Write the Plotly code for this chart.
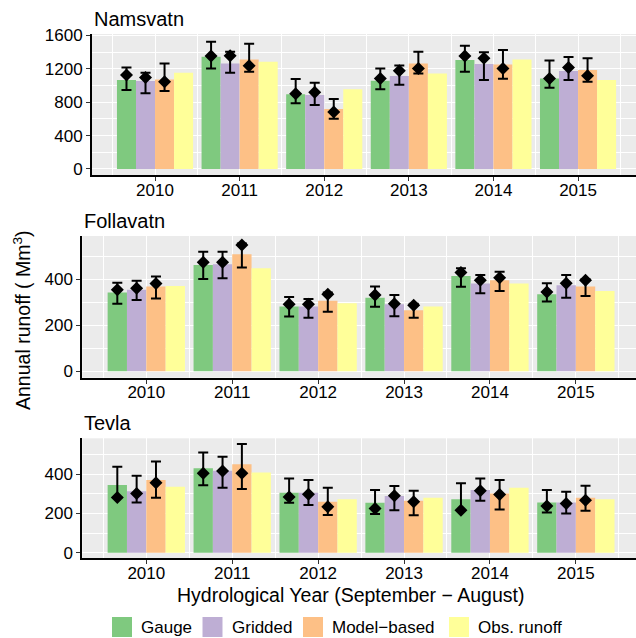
import plotly.graph_objects as go

# ---- data -------------------------------------------------------------
years = [2010, 2011, 2012, 2013, 2014, 2015]
series = ["Gauge", "Gridded", "Model\u2212based", "Obs. runoff"]
colors = ["#7fc97f", "#beaed4", "#fdc086", "#ffff99"]
sites = ["Namsvatn", "Follavatn", "Tevla"]

# bar heights: gauge, gridded, model-based, observed runoff (Mm3)
nam_bars = [
    [1065, 1344, 894, 1057, 1305, 1085],
    [1053, 1265, 886, 1113, 1257, 1173],
    [1073, 1313, 718, 1265, 1253, 1185],
    [1153, 1285, 954, 1145, 1313, 1065],
]
# point estimates and their lower / upper bounds (gauge, gridded, model-based)
nam_points = [
    [1125, 1353, 902, 1085, 1353, 1085],
    [1097, 1356, 918, 1177, 1325, 1217],
    [1045, 1237, 682, 1205, 1205, 1117],
]
nam_lower = [
    [946, 1205, 786, 954, 1165, 973],
    [906, 1153, 766, 1009, 1065, 1065],
    [934, 1165, 602, 1145, 1081, 1045],
]
nam_upper = [
    [1217, 1524, 1077, 1205, 1476, 1301],
    [1153, 1404, 1033, 1241, 1397, 1341],
    [1265, 1500, 838, 1404, 1424, 1325],
]

fol_bars = [
    [342, 462, 281, 320, 414, 335],
    [354, 465, 281, 291, 381, 374],
    [368, 509, 306, 265, 396, 368],
    [371, 448, 296, 281, 381, 349],
]
fol_points = [
    [354, 474, 291, 332, 429, 345],
    [361, 474, 291, 294, 396, 383],
    [381, 549, 335, 287, 407, 396],
]
fol_lower = [
    [294, 401, 238, 280, 367, 303],
    [310, 404, 233, 239, 339, 320],
    [316, 451, 259, 233, 349, 327],
]
fol_upper = [
    [385, 519, 323, 368, 448, 383],
    [393, 519, 314, 332, 419, 419],
    [412, 555, 342, 294, 433, 400],
]

tev_bars = [
    [345, 431, 306, 255, 273, 256],
    [314, 419, 306, 289, 320, 256],
    [371, 451, 260, 265, 302, 280],
    [337, 410, 273, 280, 332, 273],
]
tev_points = [
    [282, 405, 285, 226, 217, 238],
    [302, 417, 299, 291, 316, 251],
    [357, 405, 234, 260, 297, 268],
]
tev_lower = [
    [282, 344, 255, 197, 217, 205],
    [256, 332, 243, 217, 265, 200],
    [280, 325, 193, 191, 220, 214],
]
tev_upper = [
    [439, 511, 379, 320, 354, 320],
    [393, 490, 371, 340, 379, 311],
    [465, 555, 332, 316, 371, 342],
]

# ---- layout geometry (pixels) -------------------------------------------
W, H = 636, 638
FONT = "Liberation Sans, Arial, Helvetica, sans-serif"
bar_w = 0.225  # four bars share 0.9 of a year

panels = [
    dict(name=sites[0], bars=nam_bars, pts=nam_points, lo=nam_lower, hi=nam_upper,
         left=92.0, top=34.0, bottom=175.4, yrange=[-77, 1617], xmax=2015.685,
         major=[0, 400, 800, 1200, 1600], minor=[200, 600, 1000, 1400], title_y=19),
    dict(name=sites[1], bars=fol_bars, pts=fol_points, lo=fol_lower, hi=fol_upper,
         left=82.3, top=236.0, bottom=377.7, yrange=[-28, 588], xmax=2015.70,
         major=[0, 200, 400], minor=[100, 300, 500], title_y=221),
    dict(name=sites[2], bars=tev_bars, pts=tev_points, lo=tev_lower, hi=tev_upper,
         left=82.3, top=438.3, bottom=558.2, yrange=[-28, 584], xmax=2015.70,
         major=[0, 200, 400], minor=[100, 300, 500], title_y=423),
]

fig = go.Figure()
layout_axes = {}
annotations = []
shapes = []

x_minor = [y - 0.5 for y in years] + [years[-1] + 0.5]

for i, p in enumerate(panels):
    sfx = "" if i == 0 else str(i + 1)
    xref, yref = "x" + sfx, "y" + sfx

    for k in range(4):
        fig.add_trace(go.Bar(
            x=years, y=p["bars"][k], xaxis=xref, yaxis=yref,
            width=bar_w, offset=-0.45 + k * bar_w,
            marker=dict(color=colors[k], line=dict(width=0)),
            name=series[k], showlegend=False,
        ))
    for k in range(3):
        xs = [yr - 0.45 + (k + 0.5) * bar_w for yr in years]
        pts, lo, hi = p["pts"][k], p["lo"][k], p["hi"][k]
        fig.add_trace(go.Scatter(
            x=xs, y=pts, xaxis=xref, yaxis=yref, mode="markers",
            marker=dict(symbol="diamond", size=10, color="black"),
            error_y=dict(type="data", symmetric=False,
                         array=[max(0, h - v) for h, v in zip(hi, pts)],
                         arrayminus=[max(0, v - l) for l, v in zip(lo, pts)],
                         color="black", thickness=2, width=5),
            name=series[k], showlegend=False, cliponaxis=False,
        ))

    common = dict(
        showgrid=True, gridcolor="white", gridwidth=1.2,
        showline=True, linecolor="black", linewidth=2,
        ticks="outside", ticklen=4, tickwidth=1.2, tickcolor="#333333",
        tickfont=dict(size=17, color="black", family=FONT),
        zeroline=False, fixedrange=True, automargin=False,
    )
    layout_axes["xaxis" + sfx] = dict(
        domain=[p["left"] / W, 1.0], range=[2009.255, p["xmax"]],
        anchor=yref, tickmode="array", tickvals=years,
        ticktext=[str(y) for y in years], ticklabelstandoff=-6,
        minor=dict(tickmode="array", tickvals=x_minor, showgrid=True,
                   gridcolor="white", gridwidth=0.6, ticks=""),
        **common,
    )
    layout_axes["yaxis" + sfx] = dict(
        domain=[1 - p["bottom"] / H, 1 - p["top"] / H], range=p["yrange"],
        anchor=xref, tickmode="array", tickvals=p["major"],
        minor=dict(tickmode="array", tickvals=p["minor"], showgrid=True,
                   gridcolor="white", gridwidth=0.6, ticks=""),
        **common,
    )
    annotations.append(dict(
        text=p["name"], xref="paper", yref="paper",
        x=p["left"] / W, y=1 - p["title_y"] / H,
        xanchor="left", yanchor="middle", showarrow=False,
        font=dict(size=20, color="black", family=FONT),
    ))

# axis titles
annotations.append(dict(
    text="Hydrological Year (September \u2212 August)", xref="paper", yref="paper",
    x=350 / W, y=1 - 595 / H, xanchor="center", yanchor="middle", showarrow=False,
    font=dict(size=19.5, color="black", family=FONT),
))
annotations.append(dict(
    text="Annual runoff ( Mm<sup>3</sup>)", xref="paper", yref="paper",
    x=22 / W, y=1 - 320 / H, xanchor="center", yanchor="middle", showarrow=False,
    textangle=-90, font=dict(size=19.5, color="black", family=FONT),
))

# legend keys
key_left = [112, 202.5, 303, 449]
for k in range(4):
    x0 = key_left[k]
    shapes.append(dict(type="rect", xref="paper", yref="paper",
                       x0=x0 / W, x1=(x0 + 20) / W, y0=1 - 637 / H, y1=1 - 617 / H,
                       fillcolor=colors[k], line=dict(width=0)))
    annotations.append(dict(
        text=series[k], xref="paper", yref="paper",
        x=(x0 + 27) / W, y=1 - 627 / H, xanchor="left", yanchor="middle",
        showarrow=False, font=dict(size=17, color="black", family=FONT),
    ))

fig.update_layout(
    width=W, height=H, margin=dict(l=0, r=0, t=0, b=0, autoexpand=False),
    paper_bgcolor="white", plot_bgcolor="#ebebeb",
    showlegend=False, annotations=annotations, shapes=shapes,
    font=dict(family=FONT, color="black"),
    **layout_axes,
)

fig.write_html("out.html")
